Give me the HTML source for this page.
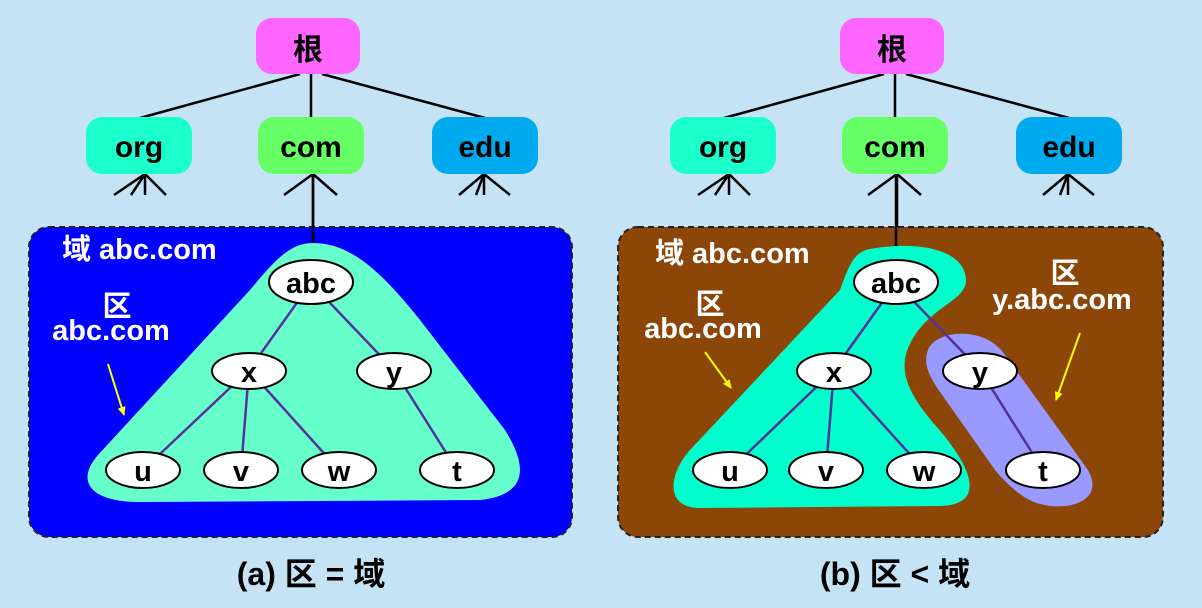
<!DOCTYPE html>
<html><head><meta charset="utf-8"><style>
html,body{margin:0;padding:0;background:#c5e3f5;}
svg{display:block;}
text{font-family:"Liberation Sans","Noto Sans CJK SC",sans-serif;font-weight:bold;}
</style></head><body>
<svg width="1202" height="608" viewBox="0 0 1202 608" xmlns="http://www.w3.org/2000/svg">
<rect width="1202" height="608" fill="#c5e3f5"/>
<defs>
<marker id="ah" markerWidth="10" markerHeight="10" refX="8" refY="5" orient="auto" markerUnits="userSpaceOnUse"><path d="M0,1 L9,5 L0,9 Z" fill="#ffff00"/></marker>
</defs>
<g id="L">
<g stroke="#000" stroke-width="2.5" fill="none">
<line x1="300" y1="74" x2="140" y2="118"/>
<line x1="311" y1="74" x2="311" y2="118"/>
<line x1="322" y1="74" x2="485" y2="118"/>
<line x1="145" y1="174" x2="114" y2="195"/><line x1="145" y1="174" x2="131" y2="195"/><line x1="145" y1="174" x2="145" y2="195"/><line x1="145" y1="174" x2="166" y2="195"/>
<line x1="313" y1="174" x2="284" y2="195"/><line x1="313" y1="174" x2="337" y2="195"/><line x1="313" y1="174" x2="313" y2="246"/>
<line x1="484" y1="174" x2="459" y2="195"/><line x1="484" y1="174" x2="476" y2="195"/><line x1="484" y1="174" x2="484" y2="195"/><line x1="484" y1="174" x2="510" y2="195"/>
</g>
<rect x="256" y="18" width="104" height="56" rx="16" fill="#ff66ff"/>
<rect x="86" y="117" width="106" height="57" rx="16" fill="#1affcc"/>
<rect x="258" y="117" width="106" height="57" rx="16" fill="#66ff66"/>
<rect x="432" y="117" width="106" height="57" rx="16" fill="#00aaee"/>
<text x="308" y="60" font-size="30" text-anchor="middle">根</text>
<text x="139" y="157" font-size="30" text-anchor="middle">org</text>
<text x="311" y="157" font-size="30" text-anchor="middle">com</text>
<text x="485" y="157" font-size="30" text-anchor="middle">edu</text>
</g>
<use href="#L" x="584"/>

<rect x="29" y="227" width="543" height="310" rx="20" fill="#0000ff" stroke="#222" stroke-width="2" stroke-dasharray="6,4"/>
<line x1="313" y1="174" x2="313" y2="246" stroke="#000" stroke-width="2.5"/>
<path d="M313,243 C350,243 380,270 420,320 L505,430 C530,470 525,495 480,500 L140,502 C88,502 76,480 98,455 L250,290 C275,260 290,243 313,243 Z" fill="#66ffcc"/>
<g stroke="#553399" stroke-width="2.5">
<line x1="311" y1="283" x2="249" y2="370"/><line x1="311" y1="283" x2="394" y2="370"/>
<line x1="249" y1="370" x2="143" y2="470"/><line x1="249" y1="370" x2="241" y2="470"/><line x1="249" y1="370" x2="339" y2="470"/>
<line x1="394" y1="370" x2="457" y2="470"/>
</g>
<g fill="#fff" stroke="#000" stroke-width="2">
<ellipse cx="311" cy="282" rx="42" ry="22"/>
<ellipse cx="249" cy="371" rx="37" ry="18"/><ellipse cx="394" cy="371" rx="37" ry="18"/>
<ellipse cx="143" cy="470" rx="37" ry="18"/><ellipse cx="241" cy="470" rx="37" ry="18"/><ellipse cx="339" cy="470" rx="37" ry="18"/><ellipse cx="457" cy="470" rx="37" ry="18"/>
</g>
<g font-size="29" text-anchor="middle">
<text x="311" y="293">abc</text><text x="249" y="382">x</text><text x="394" y="382">y</text>
<text x="143" y="481">u</text><text x="241" y="481">v</text><text x="339" y="481">w</text><text x="457" y="481">t</text>
</g>
<g fill="#fff" font-size="29">
<text x="62" y="259">域 abc.com</text>
<text x="117" y="316" text-anchor="middle">区</text>
<text x="111" y="340" text-anchor="middle">abc.com</text>
</g>
<line x1="108" y1="364" x2="124" y2="415" stroke="#ffff00" stroke-width="2" marker-end="url(#ah)"/>
<text x="311" y="585" font-size="32" text-anchor="middle">(a) 区 = 域</text>

<rect x="618" y="227" width="545" height="310" rx="20" fill="#8c4608" stroke="#222" stroke-width="2" stroke-dasharray="6,4"/>
<line x1="896" y1="174" x2="896" y2="248" stroke="#000" stroke-width="2.5"/>
<path d="M870,249 C920,240 965,250 966,280 C966,300 935,305 915,335 C895,365 905,390 935,425 C975,470 985,505 940,506 L700,508 C665,508 668,475 690,450 L840,290 C850,262 855,252 870,249 Z" fill="#00ffcc"/>
<path d="M928,350 C935,330 985,325 1005,355 L1088,470 C1105,500 1070,512 1040,504 C1025,500 1010,488 995,470 L940,392 C928,375 923,362 928,350 Z" fill="#9999ff"/>
<g stroke="#553399" stroke-width="2.5">
<line x1="896" y1="283" x2="834" y2="370"/><line x1="896" y1="283" x2="980" y2="370"/>
<line x1="834" y1="370" x2="730" y2="470"/><line x1="834" y1="370" x2="826" y2="470"/><line x1="834" y1="370" x2="924" y2="470"/>
<line x1="980" y1="370" x2="1043" y2="470"/>
</g>
<g fill="#fff" stroke="#000" stroke-width="2">
<ellipse cx="896" cy="282" rx="42" ry="22"/>
<ellipse cx="834" cy="371" rx="37" ry="18"/><ellipse cx="980" cy="371" rx="37" ry="18"/>
<ellipse cx="730" cy="470" rx="37" ry="18"/><ellipse cx="826" cy="470" rx="37" ry="18"/><ellipse cx="924" cy="470" rx="37" ry="18"/><ellipse cx="1043" cy="470" rx="37" ry="18"/>
</g>
<g font-size="29" text-anchor="middle">
<text x="896" y="293">abc</text><text x="834" y="382">x</text><text x="980" y="382">y</text>
<text x="730" y="481">u</text><text x="826" y="481">v</text><text x="924" y="481">w</text><text x="1043" y="481">t</text>
</g>
<g fill="#fff" font-size="29">
<text x="655" y="263">域 abc.com</text>
<text x="710" y="314" text-anchor="middle">区</text>
<text x="703" y="338" text-anchor="middle">abc.com</text>
<text x="1065" y="283" text-anchor="middle">区</text>
<text x="1062" y="309" text-anchor="middle">y.abc.com</text>
</g>
<line x1="705" y1="352" x2="731" y2="388" stroke="#ffff00" stroke-width="2" marker-end="url(#ah)"/>
<line x1="1080" y1="333" x2="1056" y2="400" stroke="#ffff00" stroke-width="2" marker-end="url(#ah)"/>
<text x="895" y="585" font-size="32" text-anchor="middle">(b) 区 &lt; 域</text>
</svg>
</body></html>
